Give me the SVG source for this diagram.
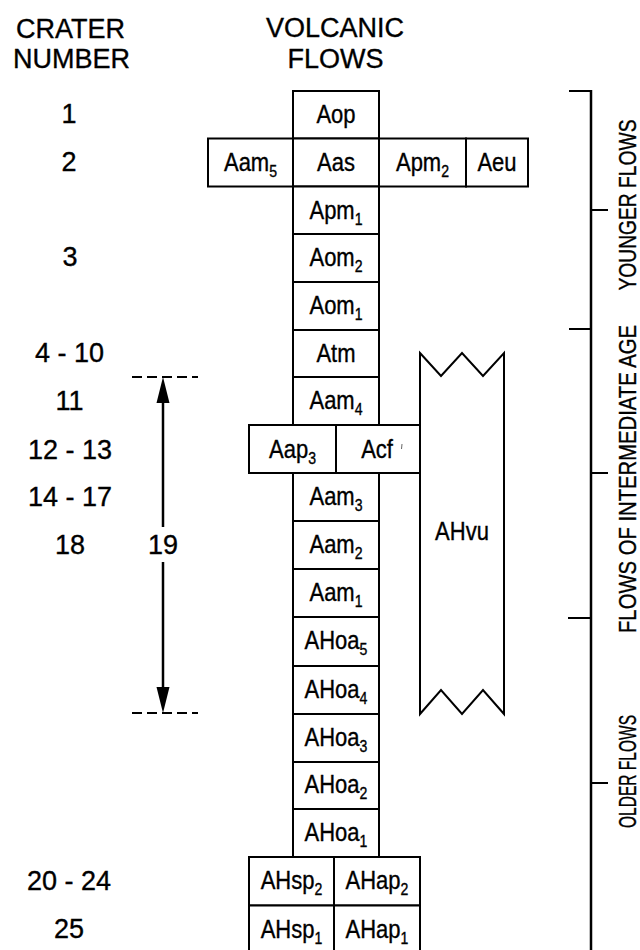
<svg xmlns="http://www.w3.org/2000/svg" width="640" height="950" viewBox="0 0 640 950">
<defs>
<style>
text{font-family:"Liberation Sans",Arial,sans-serif;fill:#000;text-anchor:middle;stroke:#000;stroke-width:0.35px}
.box{fill:#fff;stroke:#000;stroke-width:2}
.lbl{font-size:25px;transform-box:fill-box;transform-origin:center;transform:scaleX(0.88)}
.sub{font-size:16px}
.num{font-size:27px}
.hdr{font-size:27px}
.side{font-size:23px}
.ln{stroke:#000;fill:none}
.dash{stroke:#000;stroke-width:2;stroke-dasharray:10 5}
</style>
</defs>
<rect width="640" height="950" fill="#fff"/>

<g id="headers">
<text class="hdr" x="70.5" y="38">CRATER</text>
<text class="hdr" x="71.5" y="68">NUMBER</text>
<text class="hdr" x="335" y="37">VOLCANIC</text>
<text class="hdr" x="335.5" y="68">FLOWS</text>
</g>

<g id="crater-numbers">
<text class="num" x="69" y="123">1</text>
<text class="num" x="69" y="171">2</text>
<text class="num" x="70" y="266">3</text>
<text class="num" x="69.5" y="362">4 - 10</text>
<text class="num" x="69.5" y="410">11</text>
<text class="num" x="70" y="459">12 - 13</text>
<text class="num" x="70" y="506">14 - 17</text>
<text class="num" x="70" y="554">18</text>
<text class="num" x="69" y="890">20 - 24</text>
<text class="num" x="69" y="938">25</text>
</g>

<g id="n-Aop"><rect class="box" x="293" y="91" width="86" height="47.5"/><text class="lbl" x="336" y="123.5">Aop</text></g>
<g id="n-Aam5"><rect class="box" x="208" y="138.5" width="85" height="48"/><text class="lbl" x="250.5" y="171.5">Aam<tspan class="sub" dy="6">5</tspan></text></g>
<g id="n-Aas"><rect class="box" x="293" y="138.5" width="86" height="48"/><text class="lbl" x="336" y="171.5">Aas</text></g>
<g id="n-Apm2"><rect class="box" x="379" y="138.5" width="87" height="48"/><text class="lbl" x="422.5" y="171.5">Apm<tspan class="sub" dy="6">2</tspan></text></g>
<g id="n-Aeu"><rect class="box" x="466" y="138.5" width="62" height="48"/><text class="lbl" x="497" y="171.5">Aeu</text></g>
<g id="n-Apm1"><rect class="box" x="293" y="186.5" width="86" height="47.5"/><text class="lbl" x="336" y="219.5">Apm<tspan class="sub" dy="6">1</tspan></text></g>
<g id="n-Aom2"><rect class="box" x="293" y="234" width="86" height="48"/><text class="lbl" x="336" y="266.5">Aom<tspan class="sub" dy="6">2</tspan></text></g>
<g id="n-Aom1"><rect class="box" x="293" y="282" width="86" height="48"/><text class="lbl" x="336" y="314.5">Aom<tspan class="sub" dy="6">1</tspan></text></g>
<g id="n-Atm"><rect class="box" x="293" y="330" width="86" height="47"/><text class="lbl" x="336" y="362">Atm</text></g>
<g id="n-Aam4"><rect class="box" x="293" y="377" width="86" height="48"/><text class="lbl" x="336" y="409.5">Aam<tspan class="sub" dy="6">4</tspan></text></g>
<g id="n-Aap3"><rect class="box" x="249" y="425" width="87" height="48"/><text class="lbl" x="292.5" y="458">Aap<tspan class="sub" dy="6">3</tspan></text></g>
<g id="n-Acf"><rect class="box" x="336" y="425" width="84" height="48"/><text class="lbl" x="377" y="458">Acf</text><line x1="402" y1="444" x2="401.5" y2="449" stroke="#666" stroke-width="1"/></g>
<g id="n-Aam3"><rect class="box" x="293" y="473" width="86" height="48"/><text class="lbl" x="336" y="505.5">Aam<tspan class="sub" dy="6">3</tspan></text></g>
<g id="n-Aam2"><rect class="box" x="293" y="521" width="86" height="48"/><text class="lbl" x="336" y="553.5">Aam<tspan class="sub" dy="6">2</tspan></text></g>
<g id="n-Aam1"><rect class="box" x="293" y="569" width="86" height="48"/><text class="lbl" x="336" y="601.5">Aam<tspan class="sub" dy="6">1</tspan></text></g>
<g id="n-AHoa5"><rect class="box" x="293" y="617" width="86" height="49"/><text class="lbl" x="336" y="649.5">AHoa<tspan class="sub" dy="6">5</tspan></text></g>
<g id="n-AHoa4"><rect class="box" x="293" y="666" width="86" height="48"/><text class="lbl" x="336" y="698.5">AHoa<tspan class="sub" dy="6">4</tspan></text></g>
<g id="n-AHoa3"><rect class="box" x="293" y="714" width="86" height="48"/><text class="lbl" x="336" y="746.5">AHoa<tspan class="sub" dy="6">3</tspan></text></g>
<g id="n-AHoa2"><rect class="box" x="293" y="762" width="86" height="47"/><text class="lbl" x="336" y="793.5">AHoa<tspan class="sub" dy="6">2</tspan></text></g>
<g id="n-AHoa1"><rect class="box" x="293" y="809" width="86" height="48"/><text class="lbl" x="336" y="841.5">AHoa<tspan class="sub" dy="6">1</tspan></text></g>
<g id="n-AHsp2"><rect class="box" x="249" y="857" width="85" height="48.5"/><text class="lbl" x="291.5" y="889.5">AHsp<tspan class="sub" dy="6">2</tspan></text></g>
<g id="n-AHap2"><rect class="box" x="334" y="857" width="86" height="48.5"/><text class="lbl" x="377" y="889.5">AHap<tspan class="sub" dy="6">2</tspan></text></g>
<g id="n-AHsp1"><rect class="box" x="249" y="905.5" width="85" height="50"/><text class="lbl" x="291.5" y="938">AHsp<tspan class="sub" dy="6">1</tspan></text></g>
<g id="n-AHap1"><rect class="box" x="334" y="905.5" width="86" height="50"/><text class="lbl" x="377" y="938">AHap<tspan class="sub" dy="6">1</tspan></text></g>

<g id="n-AHvu">
<path class="box" d="M420,353 L441,376 L462,353 L483,376 L504,353 L504,714 L483,690 L462,714 L441,690 L420,714 Z"/>
<text class="lbl" x="462" y="540">AHvu</text>
</g>

<g id="connectors">
<line class="dash" x1="132" y1="377" x2="198" y2="377"/>
<line class="dash" x1="132" y1="713" x2="198" y2="713"/>
<line class="ln" stroke-width="2.5" x1="163" y1="400" x2="163" y2="527"/>
<line class="ln" stroke-width="2.5" x1="163" y1="562" x2="163" y2="690"/>
<path d="M163,377 L156.5,403 L169.5,403 Z" fill="#000"/>
<path d="M163,713 L156.5,687 L169.5,687 Z" fill="#000"/>
<text class="num" x="163" y="554">19</text>
</g>

<g id="age-bracket">
<line class="ln" stroke-width="2.5" x1="591" y1="90" x2="591" y2="950"/>
<line class="ln" stroke-width="2" x1="569" y1="91" x2="592" y2="91"/>
<line class="ln" stroke-width="2" x1="591" y1="210" x2="608" y2="210"/>
<line class="ln" stroke-width="2" x1="569" y1="329" x2="591" y2="329"/>
<line class="ln" stroke-width="2" x1="591" y1="473" x2="608" y2="473"/>
<line class="ln" stroke-width="2" x1="568" y1="618" x2="591" y2="618"/>
<line class="ln" stroke-width="2" x1="591" y1="783" x2="608" y2="783"/>
<text class="side" transform="translate(636,205) rotate(-90)" textLength="171" lengthAdjust="spacingAndGlyphs">YOUNGER FLOWS</text>
<text class="side" transform="translate(636,479) rotate(-90)" textLength="308" lengthAdjust="spacingAndGlyphs">FLOWS OF INTERMEDIATE AGE</text>
<text class="side" transform="translate(636,771.5) rotate(-90)" textLength="113" lengthAdjust="spacingAndGlyphs">OLDER FLOWS</text>
</g>
</svg>
